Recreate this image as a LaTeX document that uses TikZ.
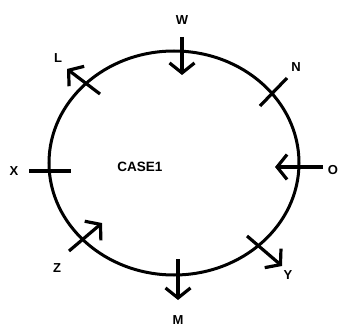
\documentclass[tikz,border=0pt]{standalone}
\usepackage{fontspec}
\setmainfont{Liberation Sans}
\usetikzlibrary{arrows.meta}
\begin{document}
\begin{tikzpicture}[x=1pt,y=-1pt,
  ring/.style={line width=3pt},
  tick/.style={line width=3.2pt},
  arr/.style={tick,-{Straight Barb[length=10pt,width=25pt,line width=3.2pt]}},
  lbl/.style={font=\fontsize{13}{15}\selectfont\bfseries,inner sep=0pt}]
\useasboundingbox (0,0) rectangle (340,326);
\draw[ring] (174,163) ellipse [x radius=125, y radius=112];
% endpoints
\coordinate (w1) at (182,37);  \coordinate (w2) at (182,75);
\coordinate (l1) at (100,94);  \coordinate (l2) at (67,69);
\coordinate (n1) at (260,106); \coordinate (n2) at (287,78);
\coordinate (x1) at (29,171);  \coordinate (x2) at (71,171);
\coordinate (o1) at (323,167); \coordinate (o2) at (275,167);
\coordinate (z1) at (69,251);  \coordinate (z2) at (102,223);
\coordinate (m1) at (178,259); \coordinate (m2) at (178,300);
\coordinate (y1) at (247,236); \coordinate (y2) at (282,266);
\draw[arr] (w1) -- (w2);
\draw[arr] (l1) -- (l2);
\draw[tick] (n1) -- (n2);
\draw[tick] (x1) -- (x2);
\draw[arr] (o1) -- (o2);
\draw[arr] (z1) -- (z2);
\draw[arr] (m1) -- (m2);
\draw[arr] (y1) -- (y2);
% labels
\node[lbl] (W) at (182,20) {W};
\node[lbl] (L) at (58,58) {L};
\node[lbl] (N) at (296,67) {N};
\node[lbl] (X) at (14,171) {X};
\node[lbl] (O) at (333,170) {O};
\node[lbl] (Z) at (57,268) {Z};
\node[lbl] (M) at (178,320) {M};
\node[lbl] (Y) at (288,275) {Y};
\node[lbl,font=\fontsize{13.5}{15}\selectfont\bfseries] (C) at (140,167) {CASE1};
\end{tikzpicture}
\end{document}
